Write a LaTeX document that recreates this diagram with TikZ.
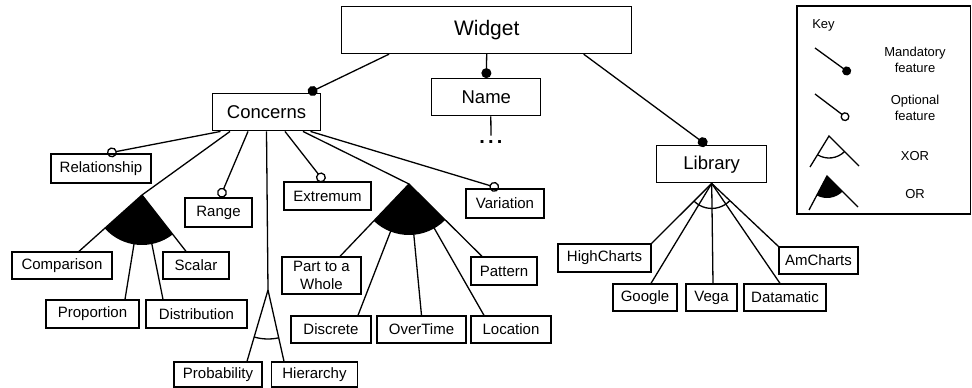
\documentclass[tikz,border=0pt]{standalone}
\usepackage{fontspec}
\setmainfont{Liberation Sans}
\usetikzlibrary{arrows.meta, calc}

\begin{document}
\begin{tikzpicture}[x=1pt, y=-1pt, line width=1.3pt,
    feat/.style={draw, rectangle, inner sep=0pt, align=center,
      font=\fontsize{15}{18}\selectfont, minimum height=28pt},
    bigfeat/.style={feat, font=\fontsize{18.5}{20}\selectfont, minimum height=37pt},
    keytext/.style={font=\fontsize{13}{16.5}\selectfont, align=center},
    mand/.style={-{Circle[length=10pt]}},
    opt/.style={-{Circle[open, length=10pt]}}]
  \useasboundingbox (0,0) rectangle (972,388);

  % root and first level
  \node[bigfeat, font=\fontsize{21}{24}\selectfont, minimum width=290pt, minimum height=47pt] (widget) at (486.7,30) {Widget};
  \node[bigfeat, minimum width=109pt] (name) at (486.3,97.3) {Name};
  \node[bigfeat, minimum width=108pt] (concerns) at (266.5,112.3) {Concerns};
  \node[bigfeat, minimum width=110pt] (library) at (711.7,164.3) {Library};
  \node[inner sep=0pt, font=\fontsize{20}{20}\bfseries] (namemore) at (491,141.7) {.\kern3.2pt.\kern3.2pt.};

  % concerns
  \node[feat, minimum width=100pt, minimum height=29pt] (relationship) at (101,168.5) {Relationship};
  \node[feat, minimum width=67pt, minimum height=29pt] (range) at (218.5,212.5) {Range};
  \node[feat, minimum width=87pt] (extremum) at (327.5,196) {Extremum};
  \node[feat, minimum width=78pt, minimum height=29pt] (variation) at (505,203.5) {Variation};
  \node[feat, minimum width=100pt, minimum height=27pt] (comparison) at (62,265.5) {Comparison};
  \node[feat, minimum width=66pt, minimum height=27pt] (scalar) at (196,265.5) {Scalar};
  \node[feat, minimum width=93pt] (proportion) at (92.5,314) {Proportion};
  \node[feat, minimum width=101pt] (distribution) at (196.5,314) {Distribution};
  \node[feat, minimum width=88pt, minimum height=25pt] (probability) at (218,374.5) {Probability};
  \node[feat, minimum width=86pt, minimum height=25pt] (hierarchy) at (314.5,374.5) {Hierarchy};
  \node[feat, minimum width=79pt, minimum height=37pt] (partwhole) at (321.5,275.5) {Part to a\\Whole};
  \node[feat, minimum width=66pt] (pattern) at (504,271) {Pattern};
  \node[feat, minimum width=80pt, minimum height=27pt] (discrete) at (331,329.5) {Discrete};
  \node[feat, minimum width=89pt, minimum height=27pt] (overtime) at (421.5,329.5) {OverTime};
  \node[feat, minimum width=80pt, minimum height=27pt] (location) at (511,329.5) {Location};

  % libraries
  \node[feat, minimum width=93pt] (highcharts) at (604.5,258) {HighCharts};
  \node[feat, minimum width=79pt, minimum height=27pt] (amcharts) at (818.5,260.5) {AmCharts};
  \node[feat, minimum width=64pt, minimum height=27pt] (google) at (645,297.5) {Google};
  \node[feat, minimum width=51pt, minimum height=27pt] (vega) at (711.5,297.5) {Vega};
  \node[feat, minimum width=82pt, minimum height=27pt] (datamatic) at (785,297.5) {Datamatic};

  \coordinate (orA) at (142,195);
  \coordinate (orB) at (409,184);
  \coordinate (xorA) at (268,290);

  % top level links
  \draw[mand] ([xshift=48pt]widget.south west) -- ([xshift=-13pt]concerns.north east);
  \draw[mand] (widget.south) -- (name.north);
  \draw[mand] ([xshift=-48.7pt]widget.south east) -- ([xshift=-5pt]library.north);
  \draw ([xshift=4.5pt]name.south) -- ([yshift=4pt]namemore.north);

  % concerns links
  \draw[opt] ([xshift=-46pt]concerns.south) -- ([xshift=6pt]relationship.north);
  \draw ([xshift=-36.5pt]concerns.south) -- (orA);
  \draw[opt] ([xshift=-18.5pt]concerns.south) -- ([xshift=1.5pt]range.north);
  \draw (concerns.south) -- (xorA);
  \draw[opt] ([xshift=18.5pt]concerns.south) -- ([xshift=-3.5pt]extremum.north);
  \draw ([xshift=36.5pt]concerns.south) -- (orB);
  \draw[opt] ([xshift=44pt]concerns.south) -- ([xshift=-6pt]variation.north);

  % or groups
  \foreach \kid/\dx in {comparison/17, proportion/32.5, distribution/-33.5, scalar/-10}
    \draw (orA) -- ([xshift=\dx pt]\kid.north);
  \fill (orA) -- ++(137.9:50) arc[start angle=137.9, end angle=52.3, radius=50] -- cycle;

  \foreach \kid/\dx in {partwhole/18.5, discrete/27, overtime/0, location/-27, pattern/-22}
    \draw (orB) -- ([xshift=\dx pt]\kid.north);
  \fill (orB) -- ++(133.4:51) arc[start angle=133.4, end angle=45, radius=51] -- cycle;

  % xor groups
  \draw (xorA) -- ([xshift=29pt]probability.north);
  \draw (xorA) -- ([xshift=-30.5pt]hierarchy.north);
  \draw (xorA) ++(77.5:49) arc[start angle=77.5, end angle=106.3, radius=49];

  \draw (library.south) -- (highcharts.north east);
  \foreach \kid/\dx in {google/6, vega/1.5, datamatic/-5}
    \draw (library.south) -- ([xshift=\dx pt]\kid.north);
  \draw (library.south) -- (amcharts.north west);
  \draw (library.south) ++(43.7:25) arc[start angle=43.7, end angle=134.7, radius=25];

  % key
  \node[draw, minimum width=173.5pt, minimum height=208pt, inner sep=0pt] (keybox) at (883.75,110) {};
  \node[keytext] (keytitle) at (823.5,25) {Key};
  \draw[-{Circle[length=9pt]}] (815,48) -- (850.3,73.6);
  \node[keytext] (mandlabel) at (915,60) {Mandatory\\feature};
  \draw[-{Circle[open, length=9pt]}] (815,94) -- (848.6,119.4);
  \node[keytext] (optlabel) at (915,108) {Optional\\feature};
  \draw (810,167) -- (829,136) -- (859,166);
  \draw (829,136) ++(45:22) arc[start angle=45, end angle=121.5, radius=22];
  \node[keytext] (xorlabel) at (915,156) {XOR};
  \draw (809,210) -- (827,176) -- (858,207);
  \fill (827,176) -- ++(117.9:22) arc[start angle=117.9, end angle=45, radius=22] -- cycle;
  \node[keytext] (orlabel) at (915,194) {OR};
\end{tikzpicture}
\end{document}
